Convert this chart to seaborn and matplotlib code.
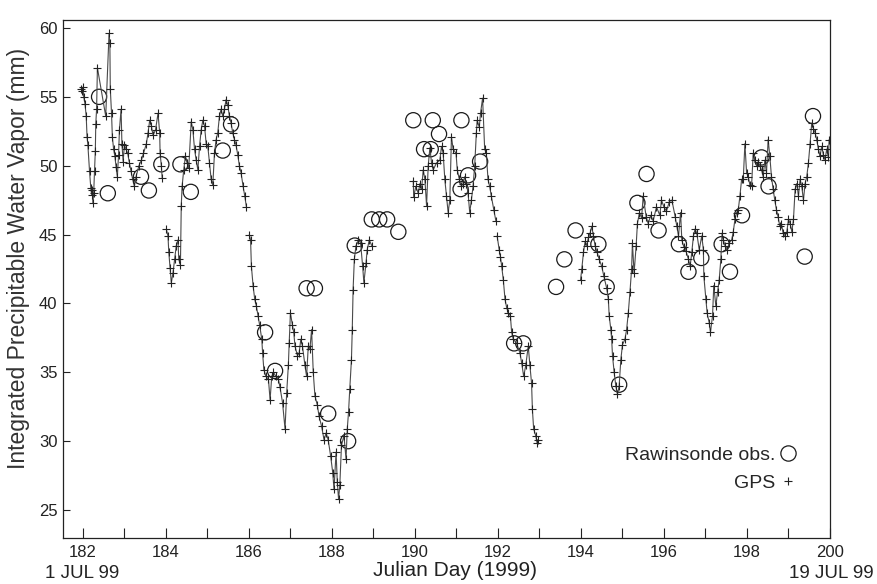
import numpy as np
import pandas as pd
import matplotlib
matplotlib.use('Agg')
import matplotlib.pyplot as plt
from matplotlib.lines import Line2D
from matplotlib.ticker import MultipleLocator
import seaborn as sns

# GPS precipitable water vapour (Julian day, mm)
gps_day = [
    181.96, 181.98, 182.00, 182.02, 182.05, 182.08, 182.10, 182.12, 182.16, 182.19,
    182.21, 182.23, 182.24, 182.26, 182.28, 182.30, 182.31, 182.33, 182.35, 182.55,
    182.63, 182.65, 182.66, 182.69, 182.71, 182.74, 182.77, 182.80, 182.83, 182.86,
    182.88, 182.92, 182.94, 182.97, 183.00, 183.04, 183.08, 183.12, 183.16, 183.20,
    183.24, 183.28, 183.35, 183.41, 183.46, 183.53, 183.57, 183.61, 183.65, 183.69,
    183.75, 183.81, 183.85, 183.86, 183.89, 183.91,
    184.01, 184.05, 184.07, 184.10, 184.13, 184.17, 184.21, 184.25, 184.29, 184.31,
    184.35, 184.37, 184.39, 184.43, 184.47, 184.51, 184.55, 184.61, 184.65, 184.69,
    184.73, 184.77, 184.81, 184.85, 184.89, 184.93, 184.97, 185.01, 185.05, 185.09,
    185.13, 185.17, 185.21, 185.25, 185.29, 185.33, 185.37, 185.41, 185.45, 185.49,
    185.53, 185.57, 185.61, 185.65, 185.69, 185.73, 185.77, 185.81, 185.86, 185.90,
    185.94,
    186.01, 186.04, 186.06, 186.10, 186.14, 186.18, 186.22, 186.26, 186.31, 186.33,
    186.36, 186.41, 186.47, 186.51, 186.55, 186.59, 186.65, 186.71, 186.75, 186.81,
    186.87, 186.91, 186.95, 186.97, 187.00, 187.05, 187.08, 187.11, 187.17, 187.21,
    187.25, 187.29, 187.35, 187.39, 187.43, 187.47, 187.51, 187.55, 187.59, 187.65,
    187.69, 187.75, 187.81, 187.86, 187.91, 187.97, 188.02, 188.05, 188.10, 188.13,
    188.16, 188.19, 188.23, 188.29, 188.34, 188.37, 188.40, 188.43, 188.47, 188.49,
    188.51, 188.54, 188.58, 188.64, 188.69, 188.74, 188.77, 188.82, 188.85, 188.90,
    188.96,
    189.96, 189.97, 190.02, 190.08, 190.12, 190.16, 190.20, 190.24, 190.28, 190.32,
    190.36, 190.40, 190.44, 190.52, 190.60, 190.64, 190.68, 190.72, 190.76, 190.80,
    190.84, 190.88, 190.92, 190.99, 191.02, 191.07, 191.12, 191.16, 191.20, 191.24,
    191.28, 191.32, 191.36, 191.40, 191.44, 191.48, 191.50, 191.55, 191.58, 191.63,
    191.68, 191.72, 191.76, 191.80, 191.84, 191.90, 191.95,
    191.98, 192.03, 192.06, 192.09, 192.13, 192.17, 192.21, 192.25, 192.30, 192.33,
    192.37, 192.45, 192.53, 192.57, 192.62, 192.67, 192.73, 192.77, 192.81, 192.83,
    192.86, 192.91, 192.94, 192.97,
    193.99, 194.02, 194.06, 194.10, 194.14, 194.18, 194.22, 194.26, 194.30, 194.34,
    194.39, 194.44, 194.50, 194.55, 194.62, 194.66, 194.68, 194.72, 194.74, 194.76,
    194.80, 194.84, 194.88, 194.92, 194.96, 195.00, 195.06, 195.10, 195.14, 195.18,
    195.22, 195.24, 195.28, 195.33, 195.36, 195.41, 195.46, 195.50, 195.57, 195.62,
    195.68, 195.74, 195.82, 195.90, 195.94, 196.00, 196.06, 196.13, 196.19, 196.27,
    196.31, 196.35, 196.40, 196.43, 196.48, 196.53, 196.59, 196.63, 196.67, 196.71,
    196.75, 196.79, 196.85, 196.91, 196.95, 196.96, 197.01, 197.04, 197.09, 197.12,
    197.17, 197.20, 197.25, 197.29, 197.33, 197.37, 197.40, 197.43, 197.47, 197.53,
    197.57, 197.63, 197.67, 197.71, 197.75, 197.79, 197.83, 197.87, 197.91, 197.95,
    197.99, 198.03, 198.07, 198.11, 198.15, 198.19, 198.23, 198.27, 198.31, 198.35,
    198.39, 198.43, 198.47, 198.51, 198.55, 198.59, 198.63, 198.67, 198.71, 198.75,
    198.79, 198.83, 198.87, 198.92, 198.96, 199.00, 199.04, 199.08, 199.12, 199.16,
    199.20, 199.24, 199.28, 199.32, 199.36, 199.40, 199.44, 199.48, 199.52, 199.56,
    199.60, 199.64, 199.68, 199.72, 199.76, 199.80, 199.84, 199.88, 199.92, 199.96,
    199.98,
]
gps_pwv = [
    55.6, 55.4, 55.7, 55.0, 54.5, 53.6, 52.1, 51.5, 49.6, 48.4,
    47.9, 48.2, 47.3, 48.0, 49.6, 51.1, 53.0, 54.1, 57.1, 53.6,
    59.6, 58.9, 55.6, 53.8, 52.1, 51.2, 50.7, 49.9, 49.2, 50.8,
    52.6, 54.1, 51.6, 50.3, 51.5, 51.2, 50.9, 50.2, 49.6, 49.0,
    48.5, 49.2, 50.0, 50.4, 50.9, 51.6, 52.4, 53.3, 52.9, 52.2,
    52.6, 53.8, 52.4, 50.9, 50.0, 49.1,
    45.4, 44.9, 43.7, 42.6, 41.5, 42.2, 43.2, 44.2, 44.6, 43.2,
    42.8, 47.1, 48.5, 49.7, 50.7, 50.2, 49.8, 53.2, 52.6, 51.2,
    50.4, 49.7, 51.4, 52.6, 53.3, 52.9, 51.6, 51.4, 50.2, 49.0,
    48.6, 50.9, 51.9, 52.4, 53.6, 54.1, 53.6, 54.1, 54.8, 54.4,
    53.6, 53.1, 52.4, 51.9, 51.5, 50.8, 50.0, 49.5, 48.5, 47.8,
    47.0,
    45.0, 44.6, 42.7, 41.3, 40.3, 39.8, 39.1, 38.4, 37.4, 36.4,
    35.2, 34.7, 34.5, 33.0, 34.7, 35.0, 34.7, 34.5, 33.9, 32.8,
    30.9, 33.5, 35.5, 37.1, 39.3, 38.4, 37.9, 36.9, 36.2, 36.4,
    37.4, 36.9, 35.5, 34.7, 36.9, 36.7, 38.1, 35.0, 33.3, 32.6,
    31.8, 31.1, 30.1, 30.6, 30.1, 28.9, 27.7, 26.5, 29.2, 27.0,
    25.8, 26.8, 29.7, 30.4, 28.7, 30.9, 32.1, 33.8, 35.9, 38.1,
    41.0, 43.2, 44.2, 44.6, 44.4, 42.7, 41.5, 42.9, 43.9, 44.6,
    44.2,
    48.9, 47.7, 48.5, 48.0, 48.7, 48.3, 49.7, 49.0, 47.1, 50.0,
    51.3, 50.2, 49.7, 50.2, 50.4, 51.4, 50.9, 49.0, 47.8, 46.6,
    47.5, 52.1, 51.2, 50.9, 49.7, 49.0, 48.5, 48.7, 49.2, 48.7,
    48.0, 46.6, 47.5, 48.5, 50.0, 52.4, 53.3, 52.8, 53.8, 54.9,
    51.2, 50.9, 49.0, 48.5, 47.8, 46.8, 46.0,
    44.9, 43.9, 43.4, 42.7, 41.7, 40.3, 39.7, 39.3, 39.1, 37.9,
    37.4, 37.1, 36.4, 35.7, 34.7, 35.5, 36.9, 35.5, 34.2, 32.3,
    30.9, 30.4, 29.9, 30.1,
    41.7, 42.5, 43.7, 44.5, 44.2, 44.8, 45.1, 45.6, 44.9, 44.2,
    43.7, 43.2, 42.7, 42.0, 41.1, 40.3, 39.1, 38.1, 37.4, 36.2,
    35.0, 34.0, 33.4, 34.0, 35.9, 37.0, 37.4, 38.1, 39.3, 40.8,
    42.5, 44.4, 42.2, 44.2, 45.8, 46.6, 46.2, 47.8, 46.3, 45.8,
    46.4, 46.0, 47.0, 46.4, 47.5, 47.0, 46.7, 47.4, 47.5, 46.3,
    45.6, 44.9, 46.6, 44.6, 44.1, 43.8, 43.2, 42.7, 43.7, 44.9,
    45.4, 45.1, 43.9, 44.9, 43.9, 42.0, 40.3, 39.3, 38.6, 37.9,
    39.1, 41.3, 39.8, 40.8, 41.7, 43.2, 45.1, 44.6, 44.2, 43.9,
    44.4, 44.6, 45.2, 46.1, 46.6, 46.8, 47.8, 49.0, 49.0, 51.6,
    49.5, 49.2, 48.6, 48.5, 50.9, 50.4, 50.0, 50.3, 50.0, 49.7,
    49.2, 50.4, 49.5, 51.9, 50.7, 49.2, 48.3, 47.5, 46.8, 46.3,
    45.6, 45.8, 45.1, 44.9, 45.2, 46.1, 45.8, 45.2, 46.1, 48.3,
    48.7, 47.8, 49.0, 48.5, 47.5, 48.7, 49.2, 50.2, 51.6, 53.1,
    52.7, 52.4, 51.9, 51.2, 50.7, 51.4, 50.8, 50.4, 51.2, 50.6,
    51.9,
]
# data gaps in the GPS record (line is broken there)
gps_gaps = [184.0, 185.97, 189.5, 191.965, 193.5]

# Rawinsonde observations
rs_day = [182.39, 182.60, 183.40, 183.59, 183.89, 184.35, 184.60, 185.37, 185.57, 186.39,
          186.63, 187.39, 187.59, 187.91, 188.39, 188.55, 188.96, 189.14, 189.33, 189.60,
          189.96, 190.22, 190.38, 190.43, 190.58, 191.10, 191.12, 191.28, 191.57, 192.39,
          192.61, 193.40, 193.60, 193.87, 194.42, 194.62, 194.92, 195.36, 195.58, 195.87,
          196.36, 196.59, 196.90, 197.39, 197.59, 197.88, 198.35, 198.52, 199.39, 199.59]
rs_pwv = [55.0, 48.0, 49.2, 48.2, 50.1, 50.1, 48.1, 51.1, 53.0, 37.9,
          35.1, 41.1, 41.1, 32.0, 30.0, 44.2, 46.1, 46.1, 46.1, 45.2,
          53.3, 51.2, 51.2, 53.3, 52.3, 48.3, 53.3, 49.3, 50.3, 37.1,
          37.1, 41.2, 43.2, 45.3, 44.3, 41.2, 34.1, 47.3, 49.4, 45.3,
          44.3, 42.3, 43.3, 44.3, 42.3, 46.4, 50.6, 48.5, 43.4, 53.6]

x_ticks = [182, 184, 186, 188, 190, 192, 194, 196, 198, 200]
y_ticks = [25, 30, 35, 40, 45, 50, 55, 60]

gps = pd.DataFrame({'day': gps_day, 'pwv': gps_pwv})
gps['seg'] = np.searchsorted(gps_gaps, gps['day'])
rs = pd.DataFrame({'day': rs_day, 'pwv': rs_pwv})

sns.set_theme(style='ticks')
plt.rcParams['font.family'] = ['Liberation Sans', 'DejaVu Sans']

fig = plt.figure(figsize=(8.77, 5.84), dpi=100)
ax = fig.add_axes([0.0718, 0.0788, 0.8746, 0.8870])

sns.lineplot(data=gps, x='day', y='pwv', units='seg', estimator=None, sort=False,
             color='#4a4a4a', lw=0.8, marker='+', markersize=5.5,
             markeredgewidth=0.8, markeredgecolor='#222222', legend=False, ax=ax)
sns.scatterplot(data=rs, x='day', y='pwv', marker='o', s=120, facecolors='none',
                edgecolor='#1a1a1a', linewidth=0.9, legend=False, ax=ax)

ax.set_xlim(181.52, 200)
ax.set_ylim(22.97, 60.58)
ax.set_xticks(x_ticks)
ax.set_yticks(y_ticks)
ax.xaxis.set_minor_locator(MultipleLocator(1))
ax.tick_params(axis='x', which='both', direction='in', length=7, width=0.8,
               labelsize=12, pad=5, colors='#222222')
ax.tick_params(axis='y', direction='in', length=5, width=0.8, labelsize=12,
               pad=4, colors='#222222')
for s in ax.spines.values():
    s.set_visible(True)
    s.set_linewidth(0.9)
    s.set_color('#222222')

ax.set_xlabel('')
ax.set_ylabel('Integrated Precipitable Water Vapor (mm)', fontsize=16.5, color='#333333')
ax.yaxis.set_label_coords(-0.043, 0.539)

ax.text(0.511, -0.062, 'Julian Day (1999)', transform=ax.transAxes, ha='center',
        va='center', fontsize=15, color='#222222')
ax.text(0.0254, -0.068, '1 JUL 99', transform=ax.transAxes, ha='center',
        va='center', fontsize=13.5, color='#222222')
ax.text(1.0013, -0.068, '19 JUL 99', transform=ax.transAxes, ha='center',
        va='center', fontsize=13.5, color='#222222')

handles = [
    Line2D([], [], ls='none', marker='o', mfc='none', mec='#1a1a1a', ms=11, mew=0.9),
    Line2D([], [], ls='none', marker='+', mec='#222222', ms=5.5, mew=0.8),
]
ax.legend(handles, ['Rawinsonde obs.', 'GPS'], loc='lower right',
          bbox_to_anchor=(0.969, 0.07), frameon=False, markerfirst=False,
          fontsize=14, handlelength=0.9, handletextpad=0.2, labelspacing=0.55,
          borderpad=0)

fig.savefig('out.png', dpi=100)
